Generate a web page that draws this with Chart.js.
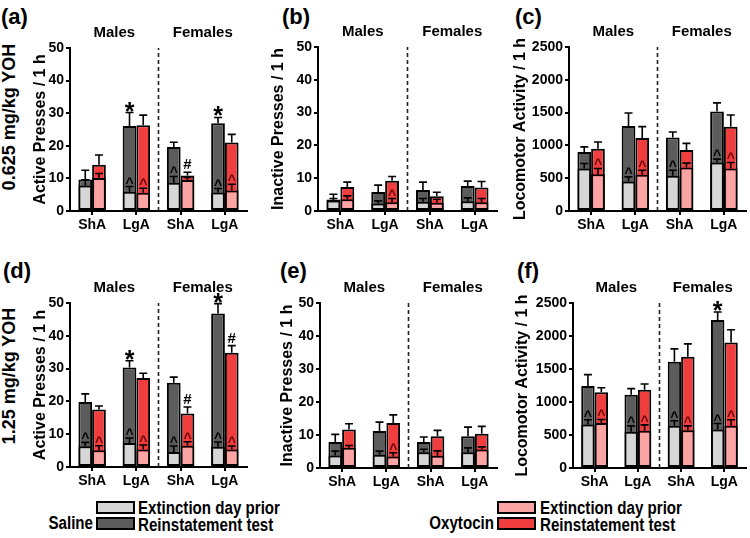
<!DOCTYPE html>
<html>
<head>
<meta charset="utf-8">
<script src="https://cdn.jsdelivr.net/npm/chart.js@4.4.0/dist/chart.umd.min.js"></script>
<style>
  body { margin: 0; background: #fff; width: 750px; height: 538px; position: relative; overflow: hidden;
         font-family: "Liberation Sans", Arial, sans-serif; }
  canvas { position: absolute; }
  .tag { position: absolute; font-weight: bold; font-size: 22px; line-height: 1; color: #000; }
  .row { position: absolute; width: 240px; text-align: center; font-weight: bold; font-size: 18px;
         line-height: 20px; transform: rotate(-90deg); white-space: nowrap; }
  .leg { position: absolute; font-weight: bold; font-size: 18px; line-height: 18px; white-space: nowrap;
         transform: scaleX(0.84); }
  .legL { transform-origin: left center; }
  .legR { transform-origin: right center; text-align: right; }
  .box { position: absolute; box-sizing: border-box; border: 2px solid #000; width: 39px; height: 13px; }
</style>
</head>
<body>

<div class="tag" style="left:1px;top:6px">(a)</div>
<div class="tag" style="left:282px;top:6px">(b)</div>
<div class="tag" style="left:515px;top:6px">(c)</div>
<div class="tag" style="left:3px;top:260px">(d)</div>
<div class="tag" style="left:280px;top:260px">(e)</div>
<div class="tag" style="left:517px;top:260px">(f)</div>

<div class="row" style="left:-111px;top:107px">0.625 mg/kg YOH</div>
<div class="row" style="left:-111px;top:366px">1.25 mg/kg YOH</div>

<canvas id="cA"></canvas>
<canvas id="cB"></canvas>
<canvas id="cC"></canvas>
<canvas id="cD"></canvas>
<canvas id="cE"></canvas>
<canvas id="cF"></canvas>

<div class="leg legR" style="left:0;width:93px;top:514px">Saline</div>
<div class="box" style="left:96px;top:501px;background:#d6d6d6"></div>
<div class="box" style="left:96px;top:517px;background:#5c5c5c"></div>
<div class="leg legL" style="left:138px;top:499px">Extinction day prior</div>
<div class="leg legL" style="left:138px;top:516px">Reinstatement test</div>

<div class="leg legR" style="left:0;width:494px;top:514px">Oxytocin</div>
<div class="box" style="left:497px;top:501px;background:#fba4a4"></div>
<div class="box" style="left:497px;top:517px;background:#f03e3e"></div>
<div class="leg legL" style="left:540px;top:499px">Extinction day prior</div>
<div class="leg legL" style="left:540px;top:516px">Reinstatement test</div>

<script>
// x categories and the two sex headers
const groups = ["ShA", "LgA", "ShA", "LgA"];
const sexes = ["Males", "Females"];

// (a) active presses, 0.625 mg/kg YOH  (mean / SEM)
const aSalExt = [7.8, 5.9, 8.7, 5.7];
const aSalExtErr = [1.8, 1.6, 1.9, 1.2];
const aSalRein = [9.7, 26.1, 19.6, 26.9];
const aSalReinErr = [2.8, 4.1, 1.5, 1.8];
const aOxyExt = [10.1, 5.6, 9.5, 6.3];
const aOxyExtErr = [1.4, 1.4, 0.8, 1.9];
const aOxyRein = [14.2, 26.3, 10.9, 21.0];
const aOxyReinErr = [3.0, 3.1, 1.0, 2.5];
const aSalHat = [0, 1, 1, 1];
const aOxyHat = [0, 1, 0, 1];
const aSalSig = ["", "*", "", "*"];
const aOxySig = ["", "", "#", ""];

// (b) inactive presses, 0.625
const bSalExt = [3.2, 2.3, 2.8, 3.0];
const bSalExtErr = [0.6, 0.8, 1.0, 1.0];
const bSalRein = [3.5, 5.8, 6.4, 7.6];
const bSalReinErr = [1.6, 2.1, 2.4, 1.5];
const bOxyExt = [3.6, 2.7, 2.5, 2.7];
const bOxyExtErr = [1.0, 1.1, 1.1, 1.1];
const bOxyRein = [7.3, 9.2, 4.5, 7.2];
const bOxyReinErr = [1.5, 1.3, 1.2, 1.8];
const bSalHat = [0, 0, 0, 0];
const bOxyHat = [0, 1, 0, 0];
const bSalSig = ["", "", "", ""];
const bOxySig = ["", "", "", ""];

// (c) locomotor activity, 0.625
const cSalExt = [648, 449, 536, 740];
const cSalExtErr = [76, 71, 86, 51];
const cSalRein = [898, 1296, 1122, 1515];
const cSalReinErr = [80, 199, 82, 133];
const cOxyExt = [561, 551, 663, 648];
const cOxyExtErr = [87, 71, 67, 92];
const cOxyRein = [949, 1112, 929, 1286];
const cOxyReinErr = [102, 174, 102, 178];
const cSalHat = [0, 1, 1, 1];
const cOxyHat = [1, 1, 0, 1];
const cSalSig = ["", "", "", ""];
const cOxySig = ["", "", "", ""];

// (d) active presses, 1.25 mg/kg YOH
const dSalExt = [6.3, 7.3, 4.6, 6.2];
const dSalExtErr = [1.2, 1.5, 1.8, 1.4];
const dSalRein = [19.8, 30.3, 25.7, 46.8];
const dSalReinErr = [2.5, 2.1, 1.7, 3.0];
const dOxyExt = [5.1, 5.3, 6.5, 5.3];
const dOxyExtErr = [1.4, 1.4, 1.2, 1.1];
const dOxyRein = [17.5, 27.1, 16.3, 34.8];
const dOxyReinErr = [1.1, 1.5, 2.0, 2.2];
const dSalHat = [1, 1, 1, 1];
const dOxyHat = [1, 1, 1, 1];
const dSalSig = ["", "*", "", "*"];
const dOxySig = ["", "", "#", "#"];

// (e) inactive presses, 1.25
const eSalExt = [3.8, 4.0, 4.8, 4.8];
const eSalExtErr = [1.3, 1.1, 0.9, 1.3];
const eSalRein = [7.9, 11.2, 7.9, 9.6];
const eSalReinErr = [2.3, 2.7, 1.5, 2.8];
const eOxyExt = [6.1, 3.5, 3.7, 5.6];
const eOxyExtErr = [0.7, 1.1, 1.5, 0.8];
const eOxyRein = [11.7, 13.6, 9.6, 10.4];
const eOxyReinErr = [1.7, 2.5, 1.8, 2.2];
const eSalHat = [0, 0, 0, 0];
const eOxyHat = [0, 1, 0, 0];
const eSalSig = ["", "", "", ""];
const eOxySig = ["", "", "", ""];

// (f) locomotor activity, 1.25
const fSalExt = [659, 548, 639, 583];
const fSalExtErr = [71, 91, 76, 91];
const fSalRein = [1242, 1111, 1608, 2241];
const fSalReinErr = [173, 91, 197, 122];
const fOxyExt = [680, 563, 573, 639];
const fOxyExtErr = [55, 91, 66, 91];
const fOxyRein = [1146, 1187, 1684, 1902];
const fOxyReinErr = [71, 86, 197, 192];
const fSalHat = [1, 1, 1, 1];
const fOxyHat = [1, 1, 1, 1];
const fSalSig = ["", "", "", "*"];
const fOxySig = ["", "", "", ""];

const activeTitle = "Active Presses / 1 h";
const inactiveTitle = "Inactive Presses / 1 h";
const locoTitle = "Locomotor Activity / 1 h";

Chart.defaults.font.family = '"Liberation Sans", Arial, sans-serif';
Chart.defaults.color = "#000";

// dashed divider between males and females + sex headers
const divider = {
    id: "divider",
    beforeDatasetsDraw(chart) {
        const { ctx, chartArea, scales: { x } } = chart;
        const xm = (x.getPixelForValue(1) + x.getPixelForValue(2)) / 2;
        ctx.save();
        ctx.strokeStyle = "#222";
        ctx.lineWidth = 1.6;
        ctx.setLineDash([4, 3]);
        ctx.beginPath();
        ctx.moveTo(xm, chartArea.bottom);
        ctx.lineTo(xm, chartArea.top);
        ctx.stroke();
        ctx.restore();
    },
    afterDraw(chart) {
        const { ctx, chartArea, scales: { x } } = chart;
        ctx.save();
        ctx.font = "bold 15px 'Liberation Sans', Arial";
        ctx.fillStyle = "#000";
        ctx.textAlign = "center";
        ctx.textBaseline = "middle";
        ctx.fillText(sexes[0], (x.getPixelForValue(0) + x.getPixelForValue(1)) / 2, chartArea.top - 15);
        ctx.fillText(sexes[1], (x.getPixelForValue(2) + x.getPixelForValue(3)) / 2, chartArea.top - 15);
        ctx.restore();
    }
};

// SEM whiskers plus ^ * # marks
const errBars = {
    id: "errBars",
    afterDatasetsDraw(chart) {
        const { ctx, scales: { y } } = chart;
        ctx.save();
        chart.data.datasets.forEach((ds, di) => {
            const meta = chart.getDatasetMeta(di);
            meta.data.forEach((bar, i) => {
                const top = y.getPixelForValue(ds.data[i]);
                const hi = y.getPixelForValue(ds.data[i] + ds.errors[i]);
                ctx.strokeStyle = "#000";
                ctx.lineWidth = 1.6;
                ctx.beginPath();
                ctx.moveTo(bar.x, top);
                ctx.lineTo(bar.x, hi);
                ctx.moveTo(bar.x - 4, hi);
                ctx.lineTo(bar.x + 4, hi);
                ctx.stroke();

                const m = ds.marks[i];
                if (!m) return;
                ctx.textAlign = "center";
                ctx.textBaseline = "alphabetic";
                ctx.fillStyle = ds.markColor;
                if (m === "^") {
                    ctx.font = "bold 14px 'Liberation Sans', Arial";
                    ctx.fillText(m, bar.x, hi + 1);
                } else if (m === "*") {
                    ctx.font = "bold 25px 'Liberation Sans', Arial";
                    ctx.fillText(m, bar.x, hi + 7);
                } else {
                    ctx.font = "bold 15px 'Liberation Sans', Arial";
                    ctx.fillText(m, bar.x, hi - 3);
                }
            });
        });
        ctx.restore();
    }
};

function hats(arr) {
    return arr.map(v => (v ? "^" : ""));
}

function drawPanel(id, box, yMax, step, title, s) {
    const cv = document.getElementById(id);
    cv.style.left = box.cl + "px";
    cv.style.top = box.ct + "px";
    cv.width = box.right + 3 - box.cl;
    cv.height = box.ch;

    const yw = box.left - box.cl;
    const xh = box.ct + box.ch - box.bottom;

    const bar = (data, errors, stack, color, marks, markColor) => ({
        data, errors, stack, marks, markColor,
        backgroundColor: color,
        borderColor: "#000",
        borderWidth: 2,
        borderSkipped: false,
        categoryPercentage: 0.62,
        barPercentage: 1
    });

    new Chart(cv, {
        type: "bar",
        data: {
            labels: groups,
            datasets: [
                bar(s.salExt, s.salExtErr, "sal", "#d6d6d6", hats(s.salHat), "#000"),
                bar(s.oxyExt, s.oxyExtErr, "oxy", "#fba4a4", hats(s.oxyHat), "#6a0000"),
                bar(s.salRein, s.salReinErr, "sal", "#5c5c5c", s.salSig, "#000"),
                bar(s.oxyRein, s.oxyReinErr, "oxy", "#f03e3e", s.oxySig, "#000")
            ]
        },
        options: {
            responsive: false,
            animation: false,
            devicePixelRatio: 1,
            layout: { padding: { left: 0, top: box.top - box.ct, right: 3, bottom: 0 } },
            plugins: { legend: { display: false }, tooltip: { enabled: false } },
            scales: {
                x: {
                    ticks: { color: "#000", font: { weight: "bold", size: 14 }, padding: 2 },
                    grid: { drawOnChartArea: false, offset: false, tickLength: 4, color: "#000", lineWidth: 2 },
                    border: { color: "#000", width: 2 },
                    afterFit: sc => { sc.height = xh; }
                },
                y: {
                    min: 0, max: yMax, stacked: false,
                    ticks: { stepSize: step, color: "#000", font: { weight: "bold", size: 14 }, padding: 2,
                             callback: v => String(v) },
                    grid: { drawOnChartArea: false, tickLength: 4, color: "#000", lineWidth: 2 },
                    border: { color: "#000", width: 2 },
                    title: { display: true, text: title, color: "#000", font: { weight: "bold", size: 16 }, padding: 0 },
                    afterFit: sc => { sc.width = yw; }
                }
            }
        },
        plugins: [divider, errBars]
    });
}

drawPanel("cA", { cl: 31, ct: 0, ch: 240, left: 70, right: 247, top: 48, bottom: 211 }, 50, 10, activeTitle,
    { salExt: aSalExt, salExtErr: aSalExtErr, salRein: aSalRein, salReinErr: aSalReinErr,
      oxyExt: aOxyExt, oxyExtErr: aOxyExtErr, oxyRein: aOxyRein, oxyReinErr: aOxyReinErr,
      salHat: aSalHat, oxyHat: aOxyHat, salSig: aSalSig, oxySig: aOxySig });

drawPanel("cB", { cl: 269, ct: 0, ch: 240, left: 318, right: 497, top: 47, bottom: 211 }, 50, 10, inactiveTitle,
    { salExt: bSalExt, salExtErr: bSalExtErr, salRein: bSalRein, salReinErr: bSalReinErr,
      oxyExt: bOxyExt, oxyExtErr: bOxyExtErr, oxyRein: bOxyRein, oxyReinErr: bOxyReinErr,
      salHat: bSalHat, oxyHat: bOxyHat, salSig: bSalSig, oxySig: bOxySig });

drawPanel("cC", { cl: 511, ct: 0, ch: 240, left: 569, right: 746, top: 47, bottom: 211 }, 2500, 500, locoTitle,
    { salExt: cSalExt, salExtErr: cSalExtErr, salRein: cSalRein, salReinErr: cSalReinErr,
      oxyExt: cOxyExt, oxyExtErr: cOxyExtErr, oxyRein: cOxyRein, oxyReinErr: cOxyReinErr,
      salHat: cSalHat, oxyHat: cOxyHat, salSig: cSalSig, oxySig: cOxySig });

drawPanel("cD", { cl: 31, ct: 240, ch: 255, left: 70, right: 247, top: 303, bottom: 467 }, 50, 10, activeTitle,
    { salExt: dSalExt, salExtErr: dSalExtErr, salRein: dSalRein, salReinErr: dSalReinErr,
      oxyExt: dOxyExt, oxyExtErr: dOxyExtErr, oxyRein: dOxyRein, oxyReinErr: dOxyReinErr,
      salHat: dSalHat, oxyHat: dOxyHat, salSig: dSalSig, oxySig: dOxySig });

drawPanel("cE", { cl: 278, ct: 240, ch: 255, left: 320, right: 497, top: 303, bottom: 468 }, 50, 10, inactiveTitle,
    { salExt: eSalExt, salExtErr: eSalExtErr, salRein: eSalRein, salReinErr: eSalReinErr,
      oxyExt: eOxyExt, oxyExtErr: eOxyExtErr, oxyRein: eOxyRein, oxyReinErr: eOxyReinErr,
      salHat: eSalHat, oxyHat: eOxyHat, salSig: eSalSig, oxySig: eOxySig });

drawPanel("cF", { cl: 513, ct: 240, ch: 255, left: 573, right: 746, top: 303, bottom: 468 }, 2500, 500, locoTitle,
    { salExt: fSalExt, salExtErr: fSalExtErr, salRein: fSalRein, salReinErr: fSalReinErr,
      oxyExt: fOxyExt, oxyExtErr: fOxyExtErr, oxyRein: fOxyRein, oxyReinErr: fOxyReinErr,
      salHat: fSalHat, oxyHat: fOxyHat, salSig: fSalSig, oxySig: fOxySig });
</script>
</body>
</html>
